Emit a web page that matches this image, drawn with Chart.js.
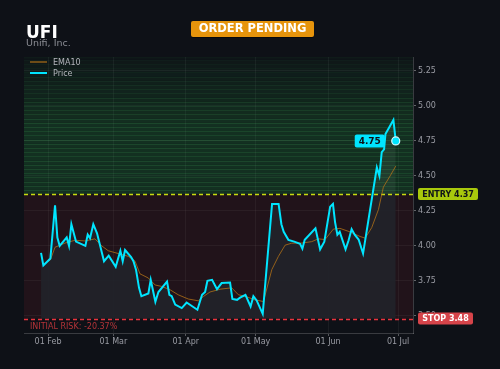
<!DOCTYPE html>
<html>
<head>
<meta charset="utf-8">
<script src="https://cdn.jsdelivr.net/npm/chart.js@4.4.1/dist/chart.umd.min.js"></script>
<style>
  html, body { margin: 0; padding: 0; background: #0e1117; }
  #wrap { width: 500px; height: 369px; }
</style>
</head>
<body>
<div id="wrap"><canvas id="chart" width="500" height="369"></canvas></div>
<script>
// header texts
const ticker = "UFI";
const companyName = "Unifi, Inc.";
const orderStatus = "ORDER PENDING";
const entryPrice = 4.37;
const stopPrice = 3.48;

// price vertices, x = day of year (01 Jan = 0)
const priceDays = [28, 29, 32, 34, 35, 36, 39, 40, 41, 43, 47, 48, 49, 50.4, 52, 55, 57, 60, 62, 63, 64, 66.6, 67.6, 68.7, 70, 71,
  74, 75, 77, 78.3, 82, 83, 84, 85.5, 88.3, 90.4, 95, 97, 98.3, 99.3, 101.3, 103.4, 105.4, 109, 110, 112, 113.3, 115.6, 117.8,
  119, 120.4, 123, 127, 129.8, 131, 132, 134, 136.5, 139, 140, 141, 145.6, 147.6, 149.4, 151.9, 153.1, 154, 155, 156, 158.5,
  159.8, 161.1, 162.4, 164.1, 166, 171.9, 173, 174, 175, 175.6, 179, 180];
const priceValues = [3.95, 3.86, 3.91, 4.29, 4.06, 4.00, 4.06, 4.00, 4.155, 4.03, 4.00, 4.08, 4.055, 4.155, 4.09, 3.89, 3.93, 3.85, 3.965, 3.89, 3.97, 3.92, 3.89, 3.83, 3.70, 3.64,
  3.66, 3.757, 3.60, 3.67, 3.745, 3.65, 3.64, 3.58, 3.555, 3.595, 3.543, 3.65, 3.67, 3.75, 3.757, 3.69, 3.734, 3.738, 3.62, 3.614, 3.63, 3.65, 3.567,
  3.64, 3.61, 3.514, 4.30, 4.30, 4.155, 4.10, 4.043, 4.03, 4.015, 3.98, 4.043, 4.126, 3.975, 4.03, 4.28, 4.30, 4.17, 4.08, 4.10, 3.975,
  4.04, 4.12, 4.08, 4.045, 3.945, 4.56, 4.50, 4.67, 4.69, 4.80, 4.90, 4.75];

// EMA10
const emaDays = [29, 32, 34, 38.3, 42.6, 46.9, 51.1, 54, 56.8, 61.1, 65.4, 68.3, 70.4, 74, 76.9, 79.7, 83.3, 86.8, 91.1, 95.4, 97.6,
  100.4, 104.7, 109.7, 112.6, 115.4, 119.7, 123.3, 126.9, 129.7, 132.6, 135.4, 139.7, 144, 146.8, 149.7, 153.3, 156.1, 160.4,
  164.7, 166.9, 169.7, 172.6, 174.7, 177.6, 180];
const emaValues = [3.87, 3.90, 3.99, 4.02, 4.04, 4.035, 4.05, 4.00, 3.965, 3.945, 3.925, 3.89, 3.80, 3.77, 3.72, 3.71, 3.686, 3.65, 3.62, 3.607, 3.638,
  3.67, 3.69, 3.70, 3.65, 3.64, 3.614, 3.602, 3.83, 3.924, 4.005, 4.019, 4.02, 4.03, 4.05, 4.045, 4.12, 4.125, 4.10,
  4.067, 4.055, 4.13, 4.26, 4.42, 4.50, 4.57];

const xTickDays = [31, 59, 90, 120, 151, 181];
const xTickLabels = ["01 Feb", "01 Mar", "01 Apr", "01 May", "01 Jun", "01 Jul"];
const yTicks = [3.5, 3.75, 4.0, 4.25, 4.5, 4.75, 5.0, 5.25];

const CYAN = '#00e5ff';
const EMA_COLOR = 'rgba(176,112,24,0.8)';
const TICK_COLOR = '#9a9ca4';

Chart.defaults.font.family = "'DejaVu Sans', sans-serif";

const pricePts = priceDays.map((d, i) => ({ x: d, y: priceValues[i] }));
const emaPts = emaDays.map((d, i) => ({ x: d, y: emaValues[i] }));

function roundRect(ctx, x, y, w, h, r) {
  ctx.beginPath();
  ctx.moveTo(x + r, y);
  ctx.arcTo(x + w, y, x + w, y + h, r);
  ctx.arcTo(x + w, y + h, x, y + h, r);
  ctx.arcTo(x, y + h, x, y, r);
  ctx.arcTo(x, y, x + w, y, r);
  ctx.closePath();
}

const tradePlugin = {
  id: 'trade',
  beforeDatasetsDraw(chart) {
    const { ctx, chartArea: a, scales: { y } } = chart;
    const yE = y.getPixelForValue(entryPrice), yS = y.getPixelForValue(stopPrice);
    ctx.save();
    ctx.fillStyle = 'rgba(160,40,50,0.13)';
    ctx.fillRect(a.left, yE, a.right - a.left, yS - yE);
    ctx.restore();
  },
  afterDatasetDraw(chart, args) {
    if (args.index !== 0) return;
    const { ctx, chartArea: a, scales: { y } } = chart;
    ctx.save();
    // striped green zone above entry
    const step = 0.03;
    for (let v = entryPrice; v < y.max; v += step) {
      const top = y.getPixelForValue(Math.min(v + step, y.max));
      const bot = y.getPixelForValue(v);
      const alpha = v < 4.85 ? 0.21 : Math.max(0.03, 0.21 - (v - 4.85) * 0.36);
      ctx.fillStyle = 'rgba(40,165,70,' + alpha + ')';
      ctx.fillRect(a.left, top, a.right - a.left, bot - top);
      ctx.fillStyle = 'rgba(80,205,110,' + (alpha * 0.7) + ')';
      ctx.fillRect(a.left, Math.round(top), a.right - a.left, 1);
    }
    // entry / stop lines
    ctx.setLineDash([4, 3]);
    ctx.lineWidth = 1.3;
    ctx.strokeStyle = '#c8dc10';
    const yE = Math.round(y.getPixelForValue(entryPrice)) + 0.5;
    ctx.beginPath(); ctx.moveTo(a.left, yE); ctx.lineTo(a.right, yE); ctx.stroke();
    ctx.strokeStyle = '#e8343e';
    const yS = Math.round(y.getPixelForValue(stopPrice)) + 0.5;
    ctx.beginPath(); ctx.moveTo(a.left, yS); ctx.lineTo(a.right, yS); ctx.stroke();
    ctx.setLineDash([]);
    // initial risk text
    const risk = (stopPrice - entryPrice) / entryPrice * 100;
    ctx.fillStyle = 'rgba(210,58,62,0.85)';
    ctx.font = "8px 'DejaVu Sans'";
    ctx.textBaseline = 'middle';
    ctx.fillText('INITIAL RISK: ' + risk.toFixed(2) + '%', a.left + 6, yS + 7);
    ctx.restore();
  },
  afterDatasetsDraw(chart) {
    const { ctx } = chart;
    const meta = chart.getDatasetMeta(2);
    const last = meta.data[meta.data.length - 1];
    const lastVal = priceValues[priceValues.length - 1];
    ctx.save();
    const w = 30, h = 13;
    const bx = last.x - 11 - w, by = last.y - h / 2;
    ctx.fillStyle = CYAN;
    roundRect(ctx, bx, by, w, h, 2);
    ctx.fill();
    ctx.fillStyle = '#0e1117';
    ctx.font = "bold 9px 'DejaVu Sans'";
    ctx.textAlign = 'center';
    ctx.textBaseline = 'middle';
    ctx.fillText(lastVal.toFixed(2), bx + w / 2, last.y + 0.5);
    ctx.restore();
  },
  afterDraw(chart) {
    const { ctx, chartArea: a, scales: { y } } = chart;
    ctx.save();
    // title block
    ctx.fillStyle = '#ffffff';
    ctx.font = "bold 17px 'DejaVu Sans'";
    ctx.textBaseline = 'alphabetic';
    ctx.fillText(ticker, 26, 37.5);
    ctx.fillStyle = '#8a8c93';
    ctx.font = "9.5px 'DejaVu Sans'";
    ctx.fillText(companyName, 26, 45.5);
    // status badge
    ctx.fillStyle = 'rgba(0,0,0,0.45)';
    roundRect(ctx, 191, 22, 123, 16, 2); ctx.fill();
    ctx.fillStyle = '#e6940c';
    roundRect(ctx, 191, 21, 123, 16, 2); ctx.fill();
    ctx.fillStyle = '#ffffff';
    ctx.font = "bold 11.5px 'DejaVu Sans'";
    ctx.textAlign = 'center';
    ctx.textBaseline = 'middle';
    ctx.fillText(orderStatus, 252.5, 29.5);
    // legend
    ctx.textAlign = 'left';
    ctx.font = "8px 'DejaVu Sans'";
    ctx.lineWidth = 1.5;
    ctx.strokeStyle = EMA_COLOR;
    ctx.beginPath(); ctx.moveTo(30, 62); ctx.lineTo(47, 62); ctx.stroke();
    ctx.lineWidth = 2;
    ctx.strokeStyle = CYAN;
    ctx.beginPath(); ctx.moveTo(30, 73); ctx.lineTo(47, 73); ctx.stroke();
    ctx.fillStyle = '#b4b6bc';
    ctx.fillText('EMA10', 53, 62.5);
    ctx.fillText('Price', 53, 73.5);
    // entry / stop labels on the axis
    const yE = y.getPixelForValue(entryPrice), yS = y.getPixelForValue(stopPrice);
    ctx.font = "bold 8px 'DejaVu Sans'";
    ctx.textAlign = 'center';
    ctx.fillStyle = '#a8c80c';
    roundRect(ctx, a.right + 5, yE - 6, 60, 12, 2); ctx.fill();
    ctx.fillStyle = '#111418';
    ctx.fillText('ENTRY ' + entryPrice.toFixed(2), a.right + 35, yE + 0.5);
    ctx.fillStyle = '#d6444a';
    roundRect(ctx, a.right + 5, yS - 6, 55, 12, 2); ctx.fill();
    ctx.fillStyle = '#ffffff';
    ctx.fillText('STOP ' + stopPrice.toFixed(2), a.right + 32.5, yS + 0.5);
    ctx.restore();
  }
};

new Chart(document.getElementById('chart'), {
  type: 'line',
  data: {
    datasets: [
      {
        label: 'area', data: pricePts, order: 3, borderWidth: 0, pointRadius: 0,
        fill: { value: stopPrice }, backgroundColor: 'rgba(34,35,42,0.92)'
      },
      {
        label: 'EMA10', data: emaPts, order: 2, borderColor: EMA_COLOR, borderWidth: 1,
        pointRadius: 0, fill: false
      },
      {
        label: 'Price', data: pricePts, order: 1, borderColor: CYAN, borderWidth: 2, fill: false,
        pointRadius: c => c.dataIndex === priceValues.length - 1 ? 4 : 0,
        pointBackgroundColor: CYAN, pointBorderColor: '#d8fbff', pointBorderWidth: 1.2
      }
    ]
  },
  options: {
    responsive: false,
    animation: false,
    layout: { padding: { left: 24, top: 57, right: 0, bottom: 0 } },
    plugins: { legend: { display: false }, tooltip: { enabled: false } },
    scales: {
      x: {
        type: 'linear', min: 20.7, max: 187.4,
        afterBuildTicks: s => { s.ticks = xTickDays.map(v => ({ value: v })); },
        afterFit: s => { s.height = 36; },
        ticks: {
          callback: v => xTickLabels[xTickDays.indexOf(v)],
          color: TICK_COLOR, font: { size: 8 }, padding: 1, maxRotation: 0, autoSkip: false
        },
        grid: { color: 'rgba(255,255,255,0.05)', tickColor: 'rgba(255,255,255,0.3)', tickLength: 3 },
        border: { color: 'rgba(255,255,255,0.18)' }
      },
      y: {
        position: 'right', min: 3.377, max: 5.35,
        afterBuildTicks: s => { s.ticks = yTicks.map(v => ({ value: v })); },
        afterFit: s => { s.width = 87; },
        ticks: { callback: v => v.toFixed(2), color: TICK_COLOR, font: { size: 8 }, padding: 2 },
        grid: { color: 'rgba(255,255,255,0.05)', tickColor: 'rgba(255,255,255,0.35)', tickLength: 3 },
        border: { color: 'rgba(255,255,255,0.18)' }
      }
    }
  },
  plugins: [tradePlugin]
});
</script>
</body>
</html>
